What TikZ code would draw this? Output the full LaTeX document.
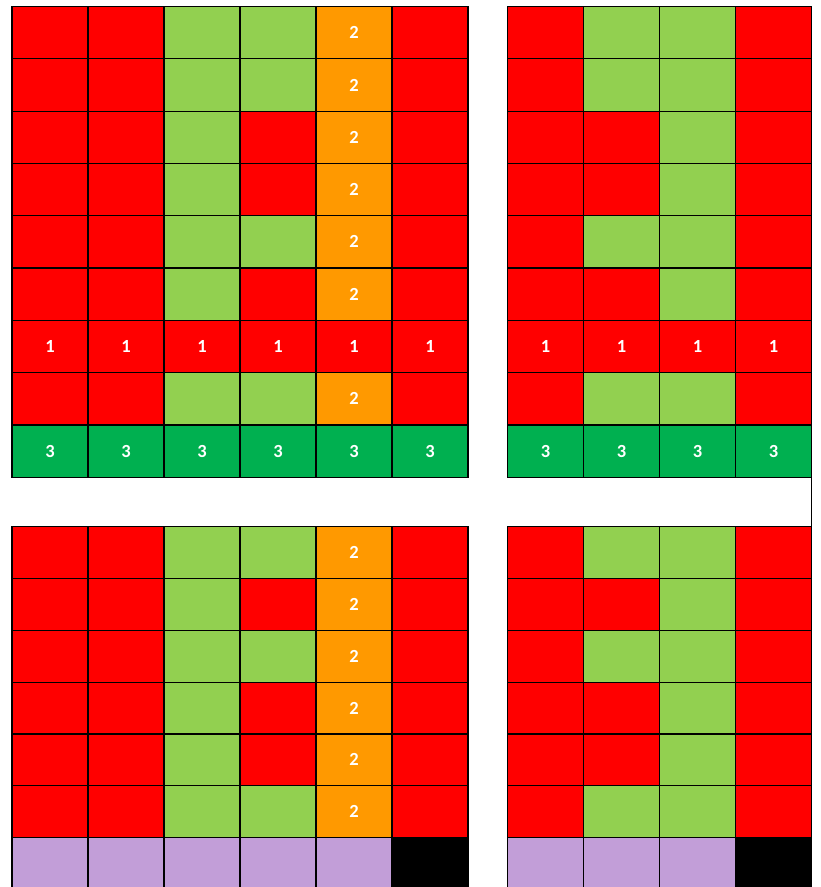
\documentclass[tikz,border=0pt]{standalone}
\usepackage{fontspec}
\setmainfont{Carlito}
\definecolor{xred}{HTML}{FF0000}
\definecolor{xlgreen}{HTML}{92D050}
\definecolor{xorange}{HTML}{FF9900}
\definecolor{xdgreen}{HTML}{00B050}
\definecolor{xpurple}{HTML}{C29ED8}
\newcommand\drawgrid[5]{%
  \foreach \row [count=\r from 0] in {#5} {
    \foreach \c [count=\k from 0] in \row {
      \node[cell, minimum height=#4pt, name=#1-\r-\k, at={({#2+76*\k}, {#3+#4*\r})}, c\c];
    }
  }
}
\tikzset{
  cell/.style={draw=black, line width=1.2pt, minimum width=76pt, inner sep=0pt, outer sep=0pt,
    anchor=north west, text=white, font=\bfseries\fontsize{18.5}{18.5}\selectfont},
  cR/.style={fill=xred, node contents={}},
  cA/.style={fill=xred, node contents={1}},
  cG/.style={fill=xlgreen, node contents={}},
  cO/.style={fill=xorange, node contents={2}},
  cD/.style={fill=xdgreen, node contents={3}},
  cP/.style={fill=xpurple, node contents={}},
  cK/.style={fill=black, node contents={}},
  sep/.style={draw=black, line width=1.2pt}
}
\begin{document}
\begin{tikzpicture}[x=1pt,y=-1pt]
\useasboundingbox (0,0) rectangle (821,887);
\clip (0,0) rectangle (821,887);
\fill[white] (0,0) rectangle (821,887);
\drawgrid{tl}{12}{6.5}{52.3}{{R,R,G,G,O,R},{R,R,G,G,O,R},{R,R,G,R,O,R},{R,R,G,R,O,R},{R,R,G,G,O,R},{R,R,G,R,O,R},{A,A,A,A,A,A},{R,R,G,G,O,R},{D,D,D,D,D,D}}
\drawgrid{tr}{507.5}{6.5}{52.3}{{R,G,G,R},{R,G,G,R},{R,R,G,R},{R,R,G,R},{R,G,G,R},{R,R,G,R},{A,A,A,A},{R,G,G,R},{D,D,D,D}}
\drawgrid{bl}{12}{526.7}{51.8}{{R,R,G,G,O,R},{R,R,G,R,O,R},{R,R,G,G,O,R},{R,R,G,R,O,R},{R,R,G,R,O,R},{R,R,G,G,O,R},{P,P,P,P,P,K}}
\drawgrid{br}{507.5}{526.7}{51.8}{{R,G,G,R},{R,R,G,R},{R,G,G,R},{R,R,G,R},{R,R,G,R},{R,G,G,R},{P,P,P,K}}
\draw[sep] (tr-8-3.south east) -- (br-0-3.north east);
\end{tikzpicture}
\end{document}
